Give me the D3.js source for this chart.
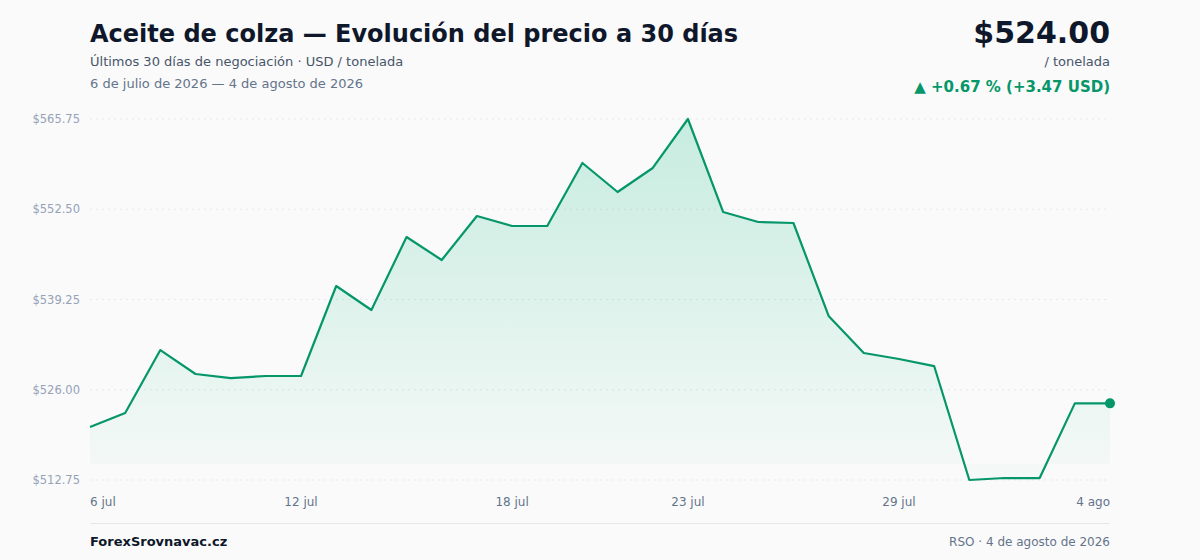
<!DOCTYPE html>
<html>
<head>
<meta charset="utf-8">
<script src="https://cdn.jsdelivr.net/npm/d3@7"></script>
<style>
  html, body { margin: 0; padding: 0; background: #fafafa; }
  body { width: 1200px; height: 560px; overflow: hidden; font-family: "DejaVu Sans", sans-serif; }
</style>
</head>
<body>
<div id="chart"></div>
<script>
// Rapeseed oil, 30 days, USD per tonne
const days = ["6 jul","7 jul","8 jul","9 jul","10 jul","11 jul","12 jul","13 jul","14 jul","15 jul",
  "16 jul","17 jul","18 jul","19 jul","20 jul","21 jul","22 jul","23 jul","24 jul","25 jul",
  "26 jul","27 jul","28 jul","29 jul","30 jul","31 jul","1 ago","2 ago","3 ago","4 ago"];
const prices = [520.53, 522.58, 531.83, 528.31, 527.72, 528.02, 528.02, 541.23, 537.71, 548.42,
  545.05, 551.51, 550.04, 550.04, 559.29, 555.03, 558.56, 565.75, 552.10, 550.63,
  550.48, 536.83, 531.39, 530.51, 529.48, 512.75, 513.04, 513.04, 524.00, 524.00];
const xTickLabels = ["6 jul", "12 jul", "18 jul", "23 jul", "29 jul", "4 ago"];

(function() {
  const width = 1200, height = 560;
  const left = 90, right = 1110, top = 119, bottom = 480;
  const green = "#059669";

  const svg = d3.select("#chart").append("svg")
    .attr("width", width)
    .attr("height", height)
    .attr("viewBox", [0, 0, width, height]);

  svg.append("rect").attr("width", width).attr("height", height).attr("fill", "#fafafa");

  // Header
  svg.append("text")
    .attr("x", left).attr("y", 42)
    .attr("fill", "#0f172a")
    .attr("font-size", "24px")
    .attr("font-weight", "bold")
    .text("Aceite de colza — Evolución del precio a 30 días");

  svg.append("text")
    .attr("x", left).attr("y", 66)
    .attr("fill", "#475569")
    .attr("font-size", "13px")
    .text("Últimos 30 días de negociación · USD / tonelada");

  svg.append("text")
    .attr("x", left).attr("y", 88)
    .attr("fill", "#64748b")
    .attr("font-size", "13px")
    .text(`6 de julio de 2026 — 4 de agosto de 2026`);

  const last = prices[prices.length - 1];
  const first = prices[0];
  const diff = last - first;
  const pct = diff / first * 100;

  svg.append("text")
    .attr("x", right).attr("y", 43)
    .attr("text-anchor", "end")
    .attr("fill", "#0f172a")
    .attr("font-size", "30px")
    .attr("font-weight", "bold")
    .text("$" + last.toFixed(2));

  svg.append("text")
    .attr("x", right).attr("y", 66)
    .attr("text-anchor", "end")
    .attr("fill", "#475569")
    .attr("font-size", "13px")
    .text("/ tonelada");

  svg.append("text")
    .attr("x", right).attr("y", 92)
    .attr("text-anchor", "end")
    .attr("fill", green)
    .attr("font-size", "15px")
    .attr("font-weight", "bold")
    .text(`▲ +${pct.toFixed(2)} % (+${diff.toFixed(2)} USD)`);

  // Scales
  const x = d3.scalePoint().domain(days).range([left, right]);
  const [minV, maxV] = d3.extent(prices);
  const y = d3.scaleLinear().domain([minV, maxV]).range([bottom, top]);
  const yTicks = d3.range(5).map(i => minV + i * (maxV - minV) / 4);

  // Grid
  const grid = svg.append("g");
  grid.selectAll("line")
    .data(yTicks)
    .join("line")
    .attr("x1", left).attr("x2", right)
    .attr("y1", d => y(d)).attr("y2", d => y(d))
    .attr("stroke", "#e2e8f0")
    .attr("stroke-width", 1)
    .attr("stroke-dasharray", "2,4");

  grid.selectAll("text")
    .data(yTicks)
    .join("text")
    .attr("x", 80)
    .attr("y", d => y(d))
    .attr("dy", "0.35em")
    .attr("text-anchor", "end")
    .attr("fill", "#94a3b8")
    .attr("font-size", "11.5px")
    .text(d => "$" + d.toFixed(2));

  // Area gradient
  const defs = svg.append("defs");
  const grad = defs.append("linearGradient")
    .attr("id", "areaFill")
    .attr("x1", 0).attr("y1", 0).attr("x2", 0).attr("y2", 1);
  grad.append("stop").attr("offset", "0%").attr("stop-color", "#10b981").attr("stop-opacity", 0.22);
  grad.append("stop").attr("offset", "100%").attr("stop-color", "#10b981").attr("stop-opacity", 0.02);

  const area = d3.area()
    .x((d, i) => x(days[i]))
    .y0(bottom - 16)
    .y1(d => y(d));

  svg.append("path")
    .datum(prices)
    .attr("d", area)
    .attr("fill", "url(#areaFill)");

  const line = d3.line()
    .x((d, i) => x(days[i]))
    .y(d => y(d));

  svg.append("path")
    .datum(prices)
    .attr("d", line)
    .attr("fill", "none")
    .attr("stroke", green)
    .attr("stroke-width", 2.2)
    .attr("stroke-linejoin", "round");

  svg.append("circle")
    .attr("cx", x(days[days.length - 1]))
    .attr("cy", y(last))
    .attr("r", 5)
    .attr("fill", green);

  // X labels
  svg.append("g")
    .selectAll("text")
    .data(xTickLabels)
    .join("text")
    .attr("x", d => x(d))
    .attr("y", 506)
    .attr("text-anchor", (d, i) => i === 0 ? "start" : (i === xTickLabels.length - 1 ? "end" : "middle"))
    .attr("fill", "#64748b")
    .attr("font-size", "12px")
    .text(d => d);

  // Footer
  svg.append("line")
    .attr("x1", left).attr("x2", right)
    .attr("y1", 523.5).attr("y2", 523.5)
    .attr("stroke", "#e5e7eb")
    .attr("stroke-width", 1);

  svg.append("text")
    .attr("x", left).attr("y", 546)
    .attr("fill", "#0f172a")
    .attr("font-size", "13px")
    .attr("font-weight", "bold")
    .text("ForexSrovnavac.cz");

  svg.append("text")
    .attr("x", right).attr("y", 546)
    .attr("text-anchor", "end")
    .attr("fill", "#64748b")
    .attr("font-size", "12px")
    .text("RSO · 4 de agosto de 2026");
})();
</script>
</body>
</html>
